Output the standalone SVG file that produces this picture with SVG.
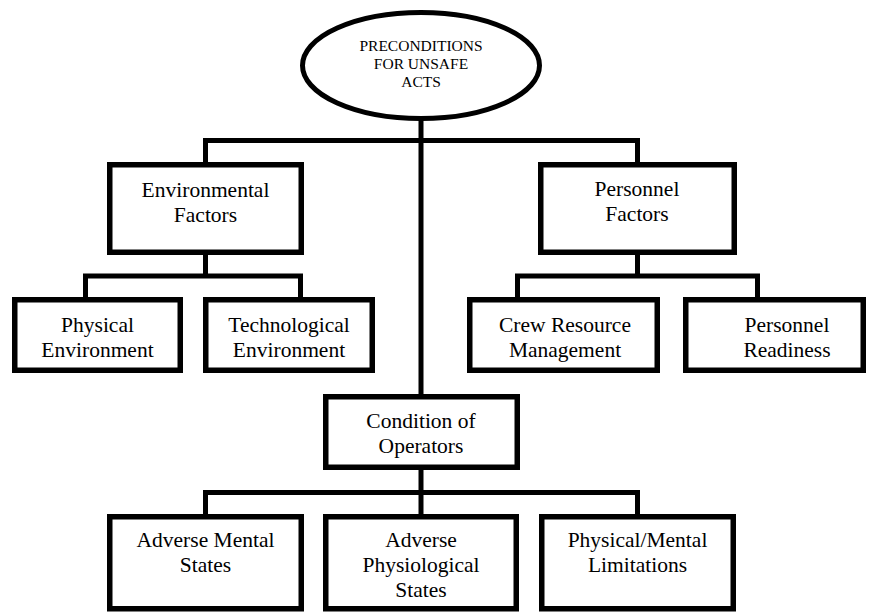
<svg xmlns="http://www.w3.org/2000/svg" width="869" height="612" viewBox="0 0 869 612">
  <style>
    .box { fill: #ffffff; stroke: #000000; stroke-width: 5.5; }
    .wire { fill: none; stroke: #000000; stroke-width: 5; stroke-linejoin: miter; stroke-linecap: butt; }
    .lbl { font-family: "Liberation Serif", "Times New Roman", serif; font-size: 21.5px; fill: #000000; text-anchor: middle; }
    .top { font-family: "Liberation Serif", "Times New Roman", serif; font-size: 15.5px; fill: #000000; text-anchor: middle; }
  </style>
  <rect width="869" height="612" fill="#ffffff"/>

  <g id="connectors">
    <path class="wire" d="M421,118 V394"/>
    <path class="wire" d="M205.5,162 V140.5 H637.5 V162"/>
    <path class="wire" d="M205.5,255 V276"/>
    <path class="wire" d="M85.5,297 V276 H300.5 V297"/>
    <path class="wire" d="M637.5,255 V276"/>
    <path class="wire" d="M517.5,297 V276 H757.5 V297"/>
    <path class="wire" d="M421,470 V514"/>
    <path class="wire" d="M205.5,514 V492.5 H637.5 V514"/>
  </g>

  <g id="preconditions">
    <ellipse cx="421" cy="65.5" rx="118.5" ry="53" fill="#ffffff" stroke="#000000" stroke-width="5"/>
    <text class="top" x="421" y="51">PRECONDITIONS</text>
    <text class="top" x="421" y="69">FOR UNSAFE</text>
    <text class="top" x="421" y="87">ACTS</text>
  </g>

  <g id="environmental-factors">
    <rect class="box" x="109.75" y="164.75" width="191.5" height="87.5"/>
    <text class="lbl" x="205.5" y="197">Environmental</text>
    <text class="lbl" x="205.5" y="222">Factors</text>
  </g>

  <g id="personnel-factors">
    <rect class="box" x="540.75" y="164.75" width="193.5" height="87.5"/>
    <text class="lbl" x="637" y="196">Personnel</text>
    <text class="lbl" x="637" y="221">Factors</text>
  </g>

  <g id="physical-environment">
    <rect class="box" x="14.75" y="299.75" width="165.5" height="70.5"/>
    <text class="lbl" x="97.5" y="332">Physical</text>
    <text class="lbl" x="97.5" y="357">Environment</text>
  </g>

  <g id="technological-environment">
    <rect class="box" x="205.75" y="299.75" width="166.5" height="70.5"/>
    <text class="lbl" x="289" y="332">Technological</text>
    <text class="lbl" x="289" y="357">Environment</text>
  </g>

  <g id="crew-resource-management">
    <rect class="box" x="469.75" y="299.75" width="187.5" height="70.5"/>
    <text class="lbl" x="565" y="332">Crew Resource</text>
    <text class="lbl" x="565" y="357">Management</text>
  </g>

  <g id="personnel-readiness">
    <rect class="box" x="685.75" y="299.75" width="177.5" height="70.5"/>
    <text class="lbl" x="787" y="332">Personnel</text>
    <text class="lbl" x="787" y="357">Readiness</text>
  </g>

  <g id="condition-of-operators">
    <rect class="box" x="325.75" y="396.75" width="191.5" height="70.5"/>
    <text class="lbl" x="421" y="428">Condition of</text>
    <text class="lbl" x="421" y="453">Operators</text>
  </g>

  <g id="adverse-mental-states">
    <rect class="box" x="109.75" y="516.75" width="191.5" height="92"/>
    <text class="lbl" x="205.5" y="547">Adverse Mental</text>
    <text class="lbl" x="205.5" y="572">States</text>
  </g>

  <g id="adverse-physiological-states">
    <rect class="box" x="325.75" y="516.75" width="190.5" height="92"/>
    <text class="lbl" x="421" y="547">Adverse</text>
    <text class="lbl" x="421" y="572">Physiological</text>
    <text class="lbl" x="421" y="597">States</text>
  </g>

  <g id="physical-mental-limitations">
    <rect class="box" x="541.75" y="516.75" width="191.5" height="92"/>
    <text class="lbl" x="637.5" y="547">Physical/Mental</text>
    <text class="lbl" x="637.5" y="572">Limitations</text>
  </g>
</svg>
